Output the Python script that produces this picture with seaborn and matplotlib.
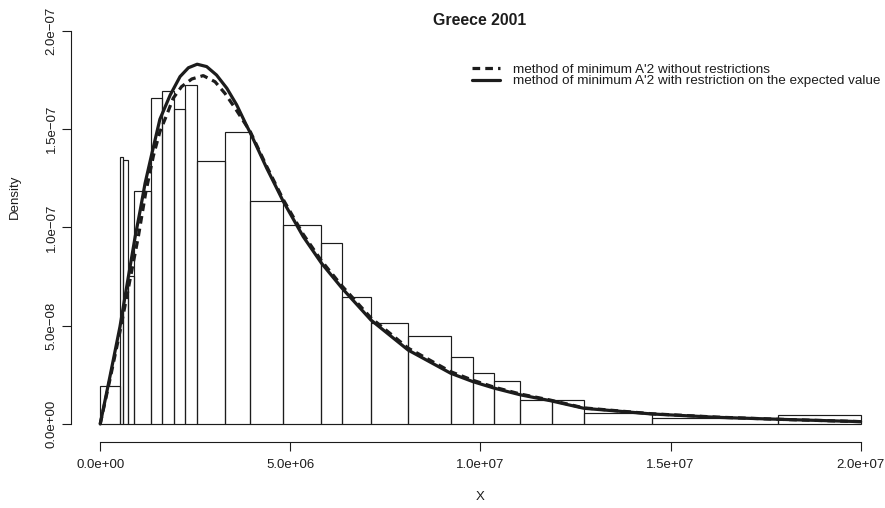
import numpy as np
import pandas as pd
import matplotlib
matplotlib.use("Agg")
import matplotlib.pyplot as plt
from matplotlib.ticker import FuncFormatter
import seaborn as sns

# ---- data (x in units of 1e6, density in units of 1e-9) ----
bin_edges = [0.0, 0.52, 0.61, 0.72, 0.90, 1.33, 1.63, 1.93, 2.24, 2.54, 3.27, 3.95,
             4.81, 5.82, 6.36, 7.12, 8.10, 9.22, 9.81, 10.37, 11.05, 11.89, 12.72,
             14.51, 17.83, 20.0]
bin_heights = [19.5, 135.7, 134.3, 75.4, 118.7, 165.8, 169.5, 160.4, 172.4, 133.8,
               148.4, 113.4, 101.1, 92.1, 64.6, 51.2, 44.9, 34.2, 26.1, 22.0, 12.2,
               12.4, 5.4, 3.0, 4.6]

solid_x = [0, 0.26, 0.52, 0.72, 0.92, 1.05, 1.18, 1.35, 1.57, 1.84, 2.10, 2.32, 2.55,
           2.80, 3.06, 3.33, 3.59, 3.85, 3.95, 4.12, 4.38, 4.60, 4.81, 5.34, 5.82,
           6.36, 7.12, 8.10, 9.22, 9.81, 10.37, 11.06, 11.83, 12.72, 14.51, 16.22,
           17.83, 20.0]
solid_y = [0, 24.5, 49.5, 72.5, 95.3, 108.5, 122.4, 136.8, 155.0, 167.3, 176.7, 181.2,
           183.0, 181.8, 177.5, 170.8, 162.3, 151.8, 148.0, 141.0, 130.1, 121.6, 113.4,
           95.3, 81.8, 69.1, 52.9, 37.6, 25.8, 21.5, 18.2, 14.8, 11.9, 8.0, 5.1, 3.4,
           2.4, 1.2]

dashed_x = [0, 0.26, 0.52, 0.76, 1.00, 1.20, 1.40, 1.57, 1.75, 1.92, 2.14, 2.41, 2.71,
            3.02, 3.28, 3.55, 3.81, 3.95, 4.38, 4.81, 5.34, 5.82, 6.36, 7.12, 8.10,
            9.22, 9.81, 10.37, 11.06, 11.83, 12.72, 14.51, 16.22, 17.83, 20.0]
dashed_y = [0, 23.0, 47.0, 71.0, 95.0, 118.0, 136.5, 148.7, 157.2, 165.7, 171.6, 175.5,
            177.2, 174.1, 168.2, 160.6, 152.8, 148.6, 131.0, 114.3, 96.5, 83.0, 70.2,
            54.0, 38.6, 26.6, 22.2, 18.7, 15.2, 12.2, 8.2, 5.2, 3.5, 2.4, 1.2]

labels = ["method of minimum A'2 without restrictions",
          "method of minimum A'2 with restriction on the expected value"]
title = "Greece 2001"

# ---- style ----
sns.set_style("white")
plt.rcParams["font.family"] = ["Liberation Sans", "DejaVu Sans"]
INK = "#1c1c1c"

FW, FH = 885, 508
fig = plt.figure(figsize=(FW / 100, FH / 100), dpi=100)
L, R, B, T = 70.7, 880.0, 442.0, 25.0
ax = fig.add_axes([L / FW, (FH - B) / FH, (R - L) / FW, (B - T) / FH])

XS, YS = 1e6, 1e-9
edges = [e * XS for e in bin_edges]
hist_df = pd.DataFrame({
    "x": [(a + b) / 2 for a, b in zip(edges[:-1], edges[1:])],
    "h": [h * YS for h in bin_heights],
})

sns.histplot(data=hist_df, x="x", weights="h", bins=edges, stat="count", fill=False,
             element="bars", color=INK, linewidth=0.85, ax=ax)

n_before = len(ax.lines)
sns.lineplot(x=np.array(dashed_x) * XS, y=np.array(dashed_y) * YS, ax=ax,
             color=INK, linewidth=2.3, label=labels[0], estimator=None)
ax.lines[n_before].set_dashes((2.4, 1.6))
sns.lineplot(x=np.array(solid_x) * XS, y=np.array(solid_y) * YS, ax=ax,
             color=INK, linewidth=2.3, label=labels[1], estimator=None)
for ln in ax.lines:
    ln.set_solid_joinstyle("round")
    ln.set_dash_joinstyle("round")

# pixel mapping: x0 at 100.2px, 38.02 px per 1e6 ; y0 at 424px, 1.966 px per 1e-9
x0px, xpx = 100.2, 38.02
y0px, ypx = 424.0, 1.966
ax.set_xlim((L - x0px) / xpx * XS, (R - x0px) / xpx * XS)
ax.set_ylim((y0px - B) / ypx * YS, (y0px - T) / ypx * YS)

def rfmt(v, pos):
    return f"{v:.1e}".replace("-", "\u2212")

ax.set_xticks(np.array([0, 5, 10, 15, 20]) * XS)
ax.set_yticks(np.array([0, 50, 100, 150, 200]) * YS)
ax.xaxis.set_major_formatter(FuncFormatter(rfmt))
ax.yaxis.set_major_formatter(FuncFormatter(rfmt))
ax.tick_params(axis="both", direction="out", length=6.5, width=0.8, color=INK,
               labelsize=9.5, labelcolor=INK, bottom=True, left=True)
ax.tick_params(axis="x", pad=6)
ax.tick_params(axis="y", pad=3)
for lbl in ax.get_yticklabels():
    lbl.set_rotation(90)
    lbl.set_va("center")

for s in ["top", "right"]:
    ax.spines[s].set_visible(False)
for s in ["left", "bottom"]:
    ax.spines[s].set_color(INK)
    ax.spines[s].set_linewidth(0.8)
ax.spines["bottom"].set_bounds(0, 20 * XS)
ax.spines["left"].set_bounds(0, 200 * YS)

W, H = R - L, B - T
ax.set_xlabel("X", fontsize=9.5, color=INK)
ax.xaxis.set_label_coords((480 - L) / W, -(497 - B) / H)
ax.xaxis.label.set_va("center")
ax.set_ylabel("Density", fontsize=9.5, color=INK)
ax.yaxis.set_label_coords((15 - L) / W, (B - 197) / H)
ax.yaxis.label.set_va("center")

fig.text(480 / FW, 1 - 20.7 / FH, title, fontsize=11.4, fontweight="bold",
         ha="center", va="center", color=INK)

leg = ax.legend(loc="upper left", bbox_to_anchor=(472.3 / FW, 1 - 63.5 / FH),
                bbox_transform=fig.transFigure, frameon=False, fontsize=9.7,
                handlelength=2.05, handletextpad=0.95, labelspacing=-0.08,
                borderpad=0, borderaxespad=0)
for t in leg.get_texts():
    t.set_color(INK)

ax.grid(False)
fig.savefig("out.png", dpi=100)
